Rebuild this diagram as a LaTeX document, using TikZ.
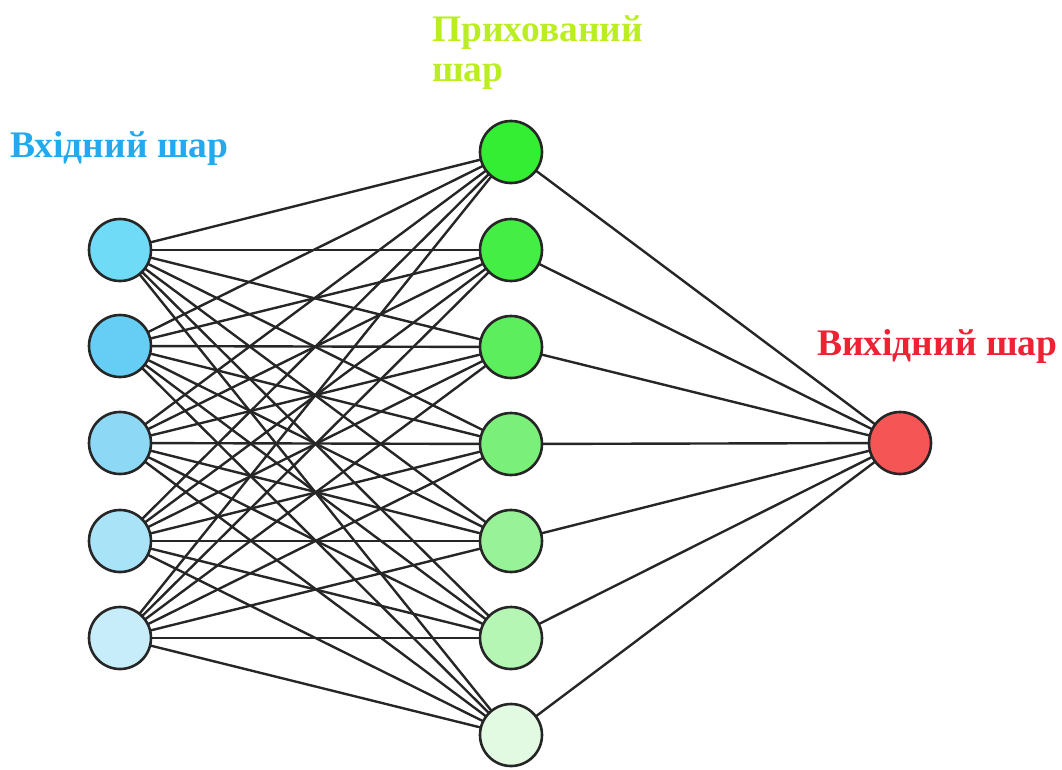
\documentclass[tikz,border=0pt]{standalone}
\usepackage{fontspec}
\setmainfont{Liberation Serif}
\begin{document}
\begin{tikzpicture}[x=1pt,y=-1pt,
  neuron/.style={circle,draw=black!85,line width=2.6pt,minimum size=62pt,inner sep=0pt},
  link/.style={draw=black!85,line width=2.4pt},
  title/.style={font=\bfseries\fontsize{37.5}{40}\selectfont,anchor=base west,inner sep=0pt,align=left}]
\useasboundingbox (0,0) rectangle (1062,769);
% palettes
\definecolor{in1}{HTML}{70DBF7}
\definecolor{in2}{HTML}{66CDF5}
\definecolor{in3}{HTML}{8CD8F5}
\definecolor{in4}{HTML}{A8E3F8}
\definecolor{in5}{HTML}{C8EDFA}
\definecolor{hd1}{HTML}{33EE33}
\definecolor{hd2}{HTML}{44EE44}
\definecolor{hd3}{HTML}{5CEE5C}
\definecolor{hd4}{HTML}{7AF07A}
\definecolor{hd5}{HTML}{98F298}
\definecolor{hd6}{HTML}{B5F6B5}
\definecolor{hd7}{HTML}{E2FAE2}
\definecolor{outc}{HTML}{F55555}
\definecolor{tin}{HTML}{22AAEE}
\definecolor{thd}{HTML}{BBEE22}
\definecolor{tout}{HTML}{EE2233}
% edges first, neurons on top
\foreach \i/\y in {1/250,2/346,3/443,4/541,5/638}
  \coordinate (ic\i) at (120,\y);
\foreach \j/\y in {1/152,2/250,3/347,4/444,5/541,6/638,7/735}
  \coordinate (hc\j) at (511,\y);
\coordinate (oc) at (900,443);
\foreach \i in {1,...,5}
  \foreach \j in {1,...,7}
    \draw[link] (ic\i) -- (hc\j);
\foreach \j in {1,...,7}
  \draw[link] (hc\j) -- (oc);
% neurons
\foreach \i in {1,...,5}
  \node[neuron,fill=in\i] (in\i) at (ic\i) {};
\foreach \j in {1,...,7}
  \node[neuron,fill=hd\j] (hd\j) at (hc\j) {};
\node[neuron,fill=outc] (out) at (oc) {};
% layer titles
\node[title,text=tin] (tinput) at (10,157) {Вхідний шар};
\node[title,text=thd,anchor=north west] (thidden) at (432,15) {Прихований\\шар};
\node[title,text=tout] (toutput) at (817,355) {Вихідний шар};
\end{tikzpicture}
\end{document}
